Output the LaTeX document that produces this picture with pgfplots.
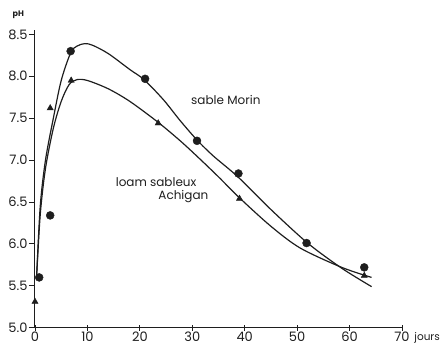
\documentclass[border=0pt]{standalone}
\usepackage{pgfplots}
\pgfplotsset{compat=1.18}
\usepackage{fontspec}
\setmainfont{Poppins}
\begin{document}
\begin{tikzpicture}
\definecolor{ink}{HTML}{1E1E1E}
\begin{axis}[
  scale only axis, width=367pt, height=297.5pt,
  xmin=0, xmax=70, ymin=5.0, ymax=8.55,
  axis x line=bottom, axis y line=left,
  axis line style={-, line width=1pt, ink},
  xtick={0,10,...,70}, ytick={5,5.5,...,8.5},
  /pgf/number format/assume math mode=true,
  yticklabel={\pgfmathprintnumber[fixed,fixed zerofill,precision=1]{\tick}},
  tick label style={font=\fontsize{13}{14}\selectfont, ink},
  major tick length=6pt,
  tick style={line width=0.9pt, ink},
  xtick align=center, ytick align=outside,
  xticklabel style={yshift=2pt},
  yticklabel style={xshift=2pt},
  clip=false,
]
% sable Morin fitted curve
\addplot[ink, line width=1.2pt, smooth, tension=0.5] coordinates {
 (0.3,5.6) (1,6.45) (2,7.0) (3.5,7.5) (5,7.95) (6.8,8.28) (8,8.36) (9.5,8.39) (11,8.37)
 (14,8.27) (18.1,8.08) (20.8,7.96) (24.5,7.72) (27.7,7.47) (30.9,7.24) (34,7.05)
 (38.7,6.80) (45,6.41) (52,6.01) (58.5,5.71) (64.2,5.49)};
% loam sableux Achigan fitted curve
\addplot[ink, line width=1.2pt, smooth, tension=0.5] coordinates {
 (0.3,5.6) (1,6.35) (2,6.9) (3.5,7.38) (5,7.7) (6.5,7.9) (8,7.96) (10,7.95) (14,7.85)
 (18.1,7.70) (23.5,7.45) (27.7,7.23) (31,7.04) (35,6.80) (39,6.55) (45,6.21) (50.6,5.95)
 (58.5,5.72) (64.2,5.6)};
% data: sable Morin
\addplot[only marks, mark=*, mark size=4pt, ink] coordinates {
 (0.8,5.6) (2.9,6.34) (6.8,8.3) (21,7.97) (30.9,7.23) (38.8,6.84) (51.8,6.01) (62.8,5.72)};
% data: loam sableux Achigan
\addplot[only marks, mark=triangle*, mark size=3.6pt, ink] coordinates {
 (0,5.31) (2.9,7.62) (6.9,7.95) (23.5,7.44) (39,6.54) (62.8,5.62)};
\node[font=\fontsize{12}{13}\selectfont, ink] at (axis cs:36.4,7.72) {sable Morin};
\node[font=\fontsize{12}{13}\selectfont, ink] at (axis cs:23.1,6.74) {loam sableux};
\node[font=\fontsize{12}{13}\selectfont, ink] at (axis cs:28.3,6.56) {Achigan};
\node[font=\fontsize{8}{9}\selectfont\bfseries, ink] at (axis cs:-3.2,8.735) {pH};
\node[font=\fontsize{10.5}{11}\selectfont, ink] at (axis cs:74.8,4.877) {jours};
\end{axis}
\pgfresetboundingbox
\path (-35pt,-24pt) rectangle (407pt,327.7pt);
\end{tikzpicture}
\end{document}
